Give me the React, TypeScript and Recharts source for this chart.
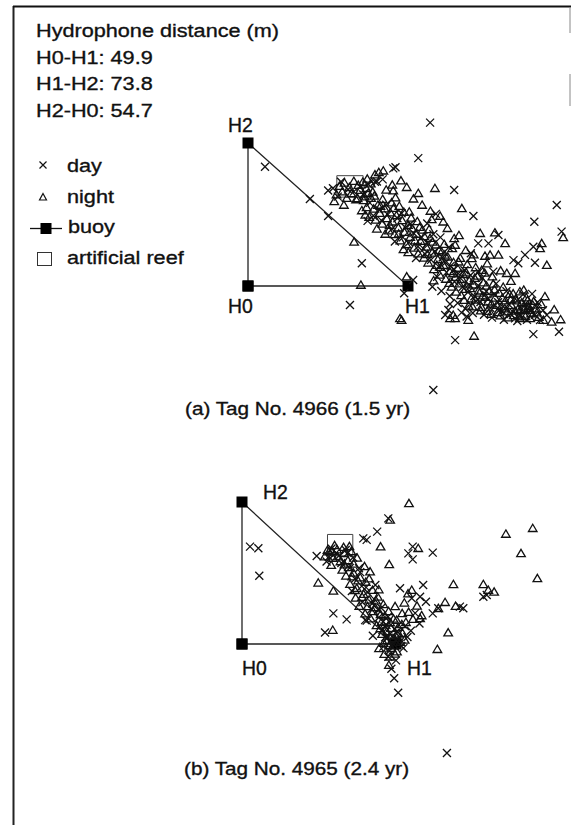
import React from "react";
import { ScatterChart, Scatter, XAxis, YAxis, ReferenceArea } from "recharts";

// Positions in metres, H0 at origin, H0-H1 along x, H0-H2 along y
const buoys: [string, number, number][] = [
  ["H0", 0, 0],
  ["H1", 49.9, 0],
  ["H2", 0, 54.7],
  ["H0", 0, 0],
];
const reef = { x1: 27.7, x2: 35.9, y1: 34.0, y2: 42.2 };

const distanceLines = ["Hydrophone distance (m)", "H0-H1: 49.9", "H1-H2: 73.8", "H2-H0: 54.7"];
const legendItems = ["day", "night", "buoy", "artificial reef"];
const captions = ["(a) Tag No. 4966 (1.5 yr)", "(b) Tag No. 4965 (2.4 yr)"];

// (a) Tag 4966
const dayA: [number, number][] = [
  [56.8, 62.5], [53.1, 48.9], [45.3, 45.0], [46.0, 45.4], [5.3, 45.6], [42.0, 40.8], [39.6, 39.9],
  [64.3, 36.7], [25.0, 36.5], [19.3, 33.3], [25.0, 26.8], [96.3, 31.0], [70.3, 26.8], [89.3, 24.6],
  [97.8, 20.8], [35.5, 8.7], [31.8, -7.3], [64.6, -20.7], [89.0, -18.4], [97.0, -17.5], [57.8, -39.8],
  [48.7, -2.8], [51.5, 2.3], [82.8, 9.9], [84.3, 8.7], [75.0, 16.3], [78.1, 19.5], [89.0, 15.0],
  [89.5, 8.9], [86.4, 11.9], [71.8, 16.3], [69.5, 12.5], [76.5, 5.5], [62.5, -9.2], [61.5, -11.1],
  [68.2, -11.7], [66.6, -10.2], [83.3, -12.4], [91.1, -13.0], [93.2, -11.1], [57.5, -0.3], [63.0, -6.9],
  [26.5, 37.4], [28.0, 34.2], [31.2, 36.9], [34.9, 38.0], [37.6, 38.8], [40.2, 40.0], [29.0, 39.9],
  [33.0, 36.1], [35.9, 35.0], [38.0, 31.8], [40.9, 29.2], [37.3, 24.9], [41.6, 25.1], [43.6, 27.3],
  [44.9, 21.8], [46.6, 25.9], [48.3, 18.6], [49.1, 22.4], [50.2, 16.7], [51.6, 20.3], [53.0, 15.1],
  [54.2, 18.6], [55.2, 12.3], [56.0, 16.4], [57.1, 10.0], [58.3, 13.3], [59.5, 7.4], [60.7, 10.9],
  [61.9, 5.2], [62.6, 14.7], [63.2, 7.7], [64.4, 1.6], [65.6, 4.8], [66.9, -0.4], [67.5, 6.0],
  [68.6, -2.4], [69.4, 4.1], [70.6, -3.9], [71.8, 0.2], [72.5, -6.1], [73.1, 3.0], [74.3, -2.0],
  [75.6, -8.4], [76.8, -3.1], [78.0, -6.2], [79.3, -9.6], [80.6, -2.0], [81.3, -7.0], [82.6, -9.9],
  [83.9, -5.6], [85.1, -11.3], [86.5, -6.8], [87.9, -9.4], [89.5, -11.0], [90.3, -6.2], [92.0, -9.3],
  [59.0, 3.5], [60.3, -1.9], [61.6, 9.0], [62.9, -3.8], [64.2, 6.2], [65.4, -6.5], [66.3, 2.9],
  [67.8, -8.7], [68.9, 0.6], [70.1, -10.3], [71.2, -5.8], [72.0, 5.4], [73.6, -11.0], [74.8, -4.9],
  [76.1, -12.1], [77.4, 0.9], [78.5, -9.1], [79.8, -12.9], [81.9, -10.7], [84.0, -13.4], [85.8, -3.2],
  [87.0, -12.9], [88.6, -3.0], [52.4, 10.7], [54.8, 14.2], [57.8, 19.8], [50.7, 23.8], [47.9, 27.8],
  [45.8, 17.0], [43.1, 31.1], [39.1, 26.9], [55.9, 23.9], [60.0, 18.6], [58.6, 27.6],
];

const nightA: [number, number][] = [
  [28.5, 38.2], [30.1, 39.5], [31.6, 37.8], [33.0, 40.1], [34.4, 38.6], [35.8, 39.8], [37.2, 41.0],
  [29.4, 36.1], [32.2, 35.4], [35.0, 36.7], [36.9, 37.4], [38.3, 39.2], [27.6, 35.0], [30.8, 33.6],
  [33.7, 33.1], [26.9, 32.4], [29.9, 31.0], [38.9, 36.0], [36.3, 34.2], [39.6, 42.6], [40.8, 43.5],
  [42.2, 44.1],
  [45.3, 36.5], [53.1, 35.5], [58.3, 37.4], [66.7, 29.7], [33.1, 16.9], [35.2, 0.4], [47.4, -12.4],
  [70.5, -19.1], [49.5, 3.6], [72.4, 20.2], [77.0, 20.4], [80.2, 16.3], [75.5, 11.9], [78.1, 11.9],
  [73.9, 11.5], [93.2, 8.0], [98.3, 18.6], [91.1, 14.4], [91.6, 16.3], [83.3, 4.9], [87.4, -8.5],
  [84.8, -12.4], [88.0, -12.4], [94.7, -13.7], [64.0, -11.1], [50.3, 28.4], [57.3, 25.5], [59.9, 26.8],
  [60.9, 24.6], [64.3, 18.2], [64.6, 15.7], [69.8, 10.6], [72.9, 6.1], [80.7, 4.9], [83.8, -5.6],
  [84.8, -9.2], [88.0, -9.2], [92.1, -13.0], [63.0, -12.4], [64.6, -12.4], [68.7, -13.0], [47.9, -13.0],
  [34.2, 33.5], [35.5, 28.9], [36.1, 32.8], [37.0, 30.1], [37.8, 26.4], [38.4, 33.6], [36.6, 27.2],
  [39.2, 29.5], [39.8, 25.3], [40.5, 31.0], [41.1, 27.9], [41.9, 23.8], [42.6, 29.6], [43.3, 25.9],
  [43.9, 21.2], [44.4, 28.1], [40.2, 21.9], [42.0, 33.2], [45.1, 24.6], [45.7, 19.8], [46.3, 27.0],
  [46.9, 22.3], [47.5, 17.4], [48.1, 25.1], [48.8, 20.6], [49.4, 15.9], [49.9, 23.3], [45.4, 29.8],
  [47.2, 30.6], [44.8, 31.9], [48.6, 28.3], [46.0, 33.8], [50.6, 18.7], [51.2, 22.0], [51.8, 14.6],
  [52.5, 19.9], [53.1, 12.4], [53.8, 17.2], [54.4, 21.5], [54.9, 10.8], [50.9, 26.1], [52.8, 24.7],
  [55.6, 15.0], [56.2, 8.9], [56.8, 18.3], [57.4, 12.7], [58.0, 6.4], [58.6, 15.8], [59.2, 10.2],
  [59.8, 4.3], [56.5, 21.7], [57.9, 2.1], [60.4, 13.1], [61.0, 8.0], [61.7, 2.7], [62.3, 11.2],
  [62.9, 5.6], [63.5, -0.3], [64.1, 9.1], [64.7, 3.4], [61.2, 16.0], [63.7, 14.4], [65.3, 6.9],
  [65.9, 0.9], [66.5, -3.6], [67.1, 4.5], [67.8, -1.2], [68.4, 8.3], [69.0, 2.0], [69.6, -4.8],
  [66.2, 10.7], [68.8, -7.6], [70.3, 0.5], [70.9, -5.3], [71.5, 3.9], [72.2, -2.6], [72.8, -8.1],
  [73.4, 1.3], [74.0, -4.2], [74.6, -9.6], [71.0, 7.1], [73.8, 5.0], [75.3, -1.9], [75.9, -6.8],
  [76.5, 0.8], [77.1, -4.5], [77.8, -10.1], [78.4, -2.7], [79.0, -7.9], [79.6, -0.4], [76.2, 3.6],
  [80.3, -5.6], [80.9, -9.8], [81.6, -3.1], [82.2, -7.4], [82.9, -11.2], [83.5, -4.9], [84.2, -8.8],
  [84.8, -2.1], [85.4, -6.3], [86.1, -9.1], [86.8, -4.4], [87.5, -7.7], [88.3, -10.5], [89.1, -5.8],
  [89.9, -8.6], [90.7, -11.9], [91.5, -7.0],
  [60.1, 7.2], [61.4, 11.9], [62.8, 1.1], [63.9, 4.8], [64.9, -2.2], [65.7, 9.3], [66.8, 2.6],
  [67.4, -5.4], [68.1, 5.1], [69.3, -0.9], [70.0, -7.9], [70.7, 3.0], [71.9, -1.8], [72.6, -9.4],
  [73.2, -3.7], [74.4, 0.1], [74.9, -6.0], [75.8, -10.7], [76.9, -1.4], [77.6, -7.3], [78.7, -11.3],
  [79.3, -4.6], [80.1, -8.6], [81.1, -12.1], [81.9, -5.3], [82.7, -2.9], [83.2, -9.5], [84.5, -11.7],
  [85.8, -8.0], [86.5, -11.6], [87.2, -5.5], [88.8, -7.2], [90.1, -10.2], [55.0, 19.0], [56.0, 12.1],
  [57.6, 16.9], [58.9, 8.0], [59.6, 13.6], [52.1, 17.4], [53.5, 22.5], [50.0, 12.9], [48.5, 14.0],
  [47.0, 20.0], [44.2, 23.3], [42.8, 19.9], [41.3, 30.6], [39.4, 34.5], [37.5, 35.6], [43.1, 36.8],
  [45.0, 38.7], [47.7, 40.3], [49.5, 37.8], [51.6, 33.4], [54.3, 31.0], [56.9, 28.7], [62.2, 22.1],
  [65.8, 19.4], [67.9, 13.7], [70.4, 12.0], [74.6, 8.6], [78.8, 5.9], [82.0, 1.9], [86.0, -1.5],
  [92.6, -4.0], [95.5, -9.0], [97.5, -12.8],
];

// (b) Tag 4965
const dayB: [number, number][] = [
  [2.6, 37.5], [5.3, 36.9], [5.6, 26.3], [47.4, 48.4], [43.8, 43.3], [39.3, 40.7], [40.4, 40.1],
  [55.3, 37.5], [53.9, 34.9], [55.3, 32.6], [61.8, 35.2], [24.2, 33.9], [29.6, 11.8], [33.9, 9.5],
  [26.9, 4.4], [51.2, 21.5], [55.0, 17.6], [57.7, 18.2], [58.7, 22.7], [61.8, 11.8], [63.6, 13.8],
  [70.6, 14.4], [71.7, 13.8], [78.2, 18.2], [79.3, 18.9], [49.3, -13.2], [50.6, -18.8], [42.4, 3.2],
  [39.9, 9.2], [40.4, 9.0], [66.4, -42.0], [47.4, -4.9], [45.8, -1.0],
  [29.0, 36.8], [31.4, 34.0], [33.6, 36.2], [27.4, 31.8], [32.2, 31.2], [34.9, 29.3], [36.6, 25.1],
  [37.9, 29.2], [38.8, 22.3], [40.6, 20.0], [41.9, 13.4], [42.8, 17.3], [44.3, 10.2], [45.1, 13.9],
  [46.2, 6.8], [47.3, 10.5], [48.0, 3.9], [48.9, 0.2], [49.5, 5.8], [50.4, 1.9], [51.6, -0.8],
  [47.8, -2.6], [46.4, 2.6], [52.8, 6.9], [54.7, 5.1], [56.1, 11.9], [57.5, 7.9], [59.6, 16.3],
  [35.6, 20.4], [39.0, 16.1], [43.2, 22.7],
  [47.1, 2.3], [48.6, -0.9], [49.8, 1.5], [50.3, 4.8], [46.8, 7.3], [45.5, 5.4], [44.1, 13.2],
  [42.2, 15.6], [40.2, 21.8], [38.3, 27.7], [36.0, 33.3], [34.2, 35.0], [30.5, 35.1], [28.2, 33.6],
  [49.9, -6.3], [48.4, -9.5], [52.3, -1.6], [53.6, 2.7],
];

const nightB: [number, number][] = [
  [54.1, 54.2], [48.0, 47.8], [85.5, 42.4], [94.2, 44.6], [90.4, 34.9], [95.7, 25.3], [44.9, 37.5],
  [47.7, 30.7], [57.1, 36.9], [68.5, 23.0], [78.2, 23.0], [81.7, 20.1], [79.8, 20.8], [65.8, 16.1],
  [69.2, 14.6], [63.6, 13.8], [57.7, 9.9], [66.8, 4.4], [63.3, -2.0], [41.5, 27.9], [24.7, 23.6],
  [29.6, 20.5], [29.4, 5.4], [44.4, -1.7], [47.6, -8.1], [48.0, -4.9], [55.0, 20.8],
  [28.2, 35.6], [29.5, 33.1], [30.8, 36.4], [31.9, 31.8], [33.1, 34.9], [34.3, 32.2], [35.4, 35.7],
  [28.9, 30.4], [32.5, 28.6], [36.2, 30.9], [26.8, 33.7], [34.8, 37.6], [30.0, 38.0],
  [33.7, 26.3], [35.0, 23.1], [36.1, 27.4], [37.2, 21.5], [38.3, 25.6], [36.8, 17.8], [39.4, 19.2],
  [40.1, 23.9], [38.0, 14.6], [41.2, 17.0], [42.3, 20.8], [39.9, 11.7], [43.1, 14.1], [44.0, 18.2],
  [41.7, 9.8], [44.9, 11.4], [45.8, 15.3], [43.6, 7.2], [46.6, 8.9], [47.5, 12.6], [45.4, 3.8],
  [48.3, 6.1], [49.1, 9.7], [47.0, 1.4], [49.8, 3.2], [50.6, 6.5], [48.4, -1.6], [51.3, 0.8],
  [46.1, -3.9], [50.2, -2.9], [52.0, 4.2], [53.1, 8.4], [54.0, 12.3], [52.6, 15.9], [55.4, 9.6],
  [56.7, 14.7], [58.2, 11.0], [53.8, 19.4], [49.6, 14.5], [51.9, 11.8],
  [46.9, 4.9], [47.8, -0.5], [48.9, 2.2], [49.5, -3.8], [50.8, 3.9], [45.9, 0.4], [44.8, 6.0],
  [46.3, 10.9], [48.0, 8.3], [50.1, 9.2], [51.8, 7.6], [52.7, 1.6], [42.5, 12.6], [40.7, 14.5],
  [38.9, 18.1], [37.6, 24.4], [36.6, 20.7], [35.7, 26.0], [34.6, 29.5], [33.2, 30.6], [31.0, 33.7],
  [29.2, 35.8], [27.7, 36.2], [32.9, 37.3], [37.3, 33.2], [39.7, 29.9], [41.2, 25.2], [43.4, 16.7],
  [44.3, 21.0], [45.2, 8.5],
];

const toPts = (a: [number, number][]) => a.map(([x, y]) => ({ x, y }));
const buoyPts = buoys.map(([name, x, y]) => ({ name, x, y }));

const FONT = '"Liberation Sans", Arial, Helvetica, sans-serif';
const INK = "#111";

const Cross = (p: any) => {
  const { cx, cy } = p;
  const s = 4;
  return (
    <path
      d={`M${cx - s},${cy - s}L${cx + s},${cy + s}M${cx - s},${cy + s}L${cx + s},${cy - s}`}
      stroke={INK}
      strokeWidth={1.3}
      fill="none"
    />
  );
};
const Tri = (p: any) => {
  const { cx, cy } = p;
  return (
    <path
      d={`M${cx},${cy - 4}L${cx + 4.3},${cy + 3.3}L${cx - 4.3},${cy + 3.3}Z`}
      stroke={INK}
      strokeWidth={1.3}
      fill="none"
    />
  );
};
const Sq = (p: any) => {
  const { cx, cy } = p;
  return <rect x={cx - 5.5} y={cy - 5.5} width={11} height={11} fill="#000" />;
};

type PanelProps = {
  top: number;
  height: number;
  xd: [number, number];
  yd: [number, number];
  day: [number, number][];
  night: [number, number][];
};

const Panel = ({ top, height, xd, yd, day, night }: PanelProps) => (
  <div style={{ position: "absolute", left: 0, top }}>
    <ScatterChart width={571} height={height} margin={{ top: 0, right: 0, bottom: 0, left: 0 }}>
      <XAxis type="number" dataKey="x" domain={xd} hide allowDataOverflow />
      <YAxis type="number" dataKey="y" domain={yd} hide allowDataOverflow />
      <ReferenceArea
        x1={reef.x1}
        x2={reef.x2}
        y1={reef.y1}
        y2={reef.y2}
        fill="none"
        stroke="#444"
        strokeWidth={1}
        ifOverflow="visible"
      />
      <Scatter
        data={buoyPts}
        line={{ stroke: "#222", strokeWidth: 1.3 }}
        lineType="joint"
        shape={Sq}
        isAnimationActive={false}
      />
      <Scatter data={toPts(day)} shape={Cross} isAnimationActive={false} />
      <Scatter data={toPts(night)} shape={Tri} isAnimationActive={false} />
    </ScatterChart>
  </div>
);

const T = ({ x, y, size = 19, sx = 1.14, children }: any) => (
  <text
    transform={`translate(${x},${y}) scale(${sx},1)`}
    fontSize={size}
    fontFamily={FONT}
    fill={INK}
    stroke={INK}
    strokeWidth={0.35}
  >
    {children}
  </text>
);

export default function App() {
  return (
    <div
      style={{
        position: "absolute",
        left: 0,
        top: 0,
        width: 571,
        height: 825,
        background: "#fff",
        overflow: "hidden",
      }}
    >
      <Panel top={0} height={400} xd={[-77.35, 100.74]} yd={[-43.61, 109.4]} day={dayA} night={nightA} />
      <Panel top={400} height={425} xd={[-78.41, 106.6]} yd={[-69.72, 93.99]} day={dayB} night={nightB} />
      <svg
        width={571}
        height={825}
        style={{ position: "absolute", left: 0, top: 0, pointerEvents: "none" }}
      >
        {/* frame */}
        <line x1={13.5} y1={6} x2={13.5} y2={825} stroke="#222" strokeWidth={2} />
        <line x1={13} y1={6.5} x2={571} y2={6.5} stroke="#111" strokeWidth={2} />
        <line x1={570} y1={7} x2={570} y2={33} stroke="#888" strokeWidth={1} />
        <line x1={570} y1={74} x2={570} y2={106} stroke="#888" strokeWidth={1} />

        {distanceLines.map((s, i) => (
          <T key={s} x={36} y={37 + i * 26.7}>
            {s}
          </T>
        ))}

        {/* legend */}
        <path d="M39.5,161.5L46.5,168.5M39.5,168.5L46.5,161.5" stroke={INK} strokeWidth={1.2} fill="none" />
        <path d="M43,193.5L46.5,200L39.5,200Z" stroke={INK} strokeWidth={1.2} fill="none" />
        <line x1={30} y1={228.5} x2={62} y2={228.5} stroke={INK} strokeWidth={1.3} />
        <rect x={40.5} y={223} width={11} height={11} fill="#000" />
        <rect x={37.5} y={252.5} width={14} height={13} fill="none" stroke="#333" strokeWidth={1} />
        {legendItems.map((s, i) => (
          <T key={s} x={i === 2 ? 68 : 67} y={172 + i * 30.7}>
            {s}
          </T>
        ))}

        {/* panel (a) labels */}
        <T x={228} y={132} size={20} sx={0.97}>H2</T>
        <T x={228} y={313} size={20} sx={0.97}>H0</T>
        <T x={405} y={313} size={20} sx={0.97}>H1</T>
        <T x={185} y={415} size={18.5} sx={1.12}>{captions[0]}</T>

        {/* panel (b) labels */}
        <T x={263} y={499} size={20} sx={0.97}>H2</T>
        <T x={242} y={675} size={20} sx={0.97}>H0</T>
        <T x={407} y={675} size={20} sx={0.97}>H1</T>
        <T x={184} y={775} size={18.5} sx={1.12}>{captions[1]}</T>
      </svg>
    </div>
  );
}
